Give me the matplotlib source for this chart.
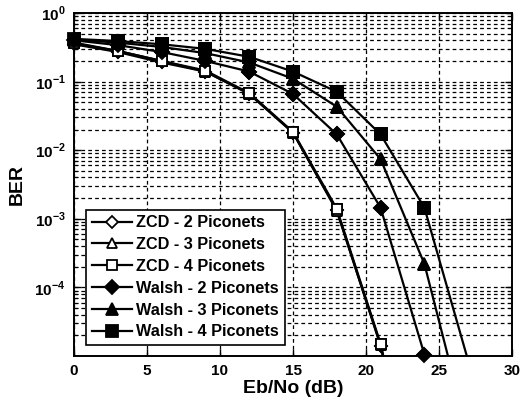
# BER vs Eb/No for ZCD and Walsh codes, 2-4 piconets
import numpy as np
import matplotlib.pyplot as plt
from matplotlib.ticker import LogLocator, NullFormatter

plt.rcParams['font.family'] = ['Liberation Sans', 'DejaVu Sans']
plt.rcParams['font.weight'] = 'bold'
plt.rcParams['mathtext.fontset'] = 'custom'
plt.rcParams['mathtext.rm'] = 'Liberation Sans:bold'
plt.rcParams['mathtext.bf'] = 'Liberation Sans:bold'

ebno = [0, 3, 6, 9, 12, 15, 18, 21, 24, 27]

zcd_2 = [0.35, 0.27, 0.19, 0.14, 0.066, 0.018, 1.35e-3, 1.4e-5, 2e-8, 1e-11]
zcd_3 = [0.36, 0.28, 0.20, 0.14, 0.067, 0.018, 1.30e-3, 1.45e-5, 2e-8, 1e-11]
zcd_4 = [0.37, 0.28, 0.20, 0.145, 0.068, 0.0185, 1.40e-3, 1.5e-5, 2.2e-8, 1e-11]
walsh_2 = [0.40, 0.34, 0.27, 0.20, 0.14, 0.066, 0.017, 1.45e-3, 1.05e-5, 1e-8]
walsh_3 = [0.41, 0.37, 0.32, 0.26, 0.19, 0.11, 0.043, 7.4e-3, 2.2e-4, 7e-7]
walsh_4 = [0.42, 0.39, 0.35, 0.30, 0.23, 0.14, 0.071, 0.017, 1.45e-3, 8.5e-6]

labels = ['ZCD - 2 Piconets', 'ZCD - 3 Piconets', 'ZCD - 4 Piconets',
          'Walsh - 2 Piconets', 'Walsh - 3 Piconets', 'Walsh - 4 Piconets']
series = [zcd_2, zcd_3, zcd_4, walsh_2, walsh_3, walsh_4]
markers = ['D', '^', 's', 'D', '^', 's']
faces = ['white', 'white', 'white', 'black', 'black', 'black']
msizes = [6.5, 7.5, 7, 7, 8, 8]

ymin = 1e-5

fig = plt.figure(figsize=(5.26, 4.03), dpi=100)
ax = fig.add_axes([74/526, 1 - 356/403, 438/526, 343/403])

for y, lab, m, fc, ms in zip(series, labels, markers, faces, msizes):
    style = dict(marker=m, markersize=ms, markerfacecolor=fc,
                 markeredgecolor='black', markeredgewidth=1.3)
    inside = [i for i, v in enumerate(y) if v >= ymin]
    ax.semilogy(ebno, y, color='black', lw=1.6, label=lab, markevery=inside, **style)
    # markers sitting on the bottom edge are not clipped (like matlab)
    ax.plot([ebno[i] for i in inside], [y[i] for i in inside], linestyle='none',
            clip_on=False, zorder=3, **style)

ax.set_xlim(0, 30)
ax.set_ylim(ymin, 1)
ax.set_xticks([0, 5, 10, 15, 20, 25, 30])
ax.set_yticks([1e-4, 1e-3, 1e-2, 1e-1, 1])
ax.set_yticklabels([r'$10^{-4}$', r'$10^{-3}$', r'$10^{-2}$', r'$10^{-1}$', r'$10^{0}$'])
ax.yaxis.set_minor_locator(LogLocator(base=10, subs=np.arange(2, 10), numticks=20))
ax.yaxis.set_minor_formatter(NullFormatter())

ax.grid(True, which='major', color='black', linestyle=(0, (3, 2.5)), lw=0.9)
ax.grid(True, which='minor', axis='y', color='black', linestyle=(0, (3, 2.5)), lw=0.9)
ax.tick_params(which='both', direction='in', top=True, right=True)
ax.tick_params(which='major', length=5, width=1, labelsize=11, pad=6)
ax.tick_params(which='minor', length=3, width=0.8)
for s in ax.spines.values():
    s.set_linewidth(1.4)

ax.set_xlabel('Eb/No (dB)', fontsize=14, fontweight='bold', labelpad=1)
ax.set_ylabel('BER', fontsize=14, fontweight='bold', labelpad=6)

leg = ax.legend(loc='lower left', bbox_to_anchor=(0.027, 0.032), borderaxespad=0,
                fontsize=11.7, handlelength=2.5, labelspacing=0.42, fancybox=False,
                framealpha=1, edgecolor='black', borderpad=0.35, handletextpad=0.25)
leg.get_frame().set_linewidth(1.2)
leg.set_zorder(5)

fig.savefig('out.png', dpi=100)
